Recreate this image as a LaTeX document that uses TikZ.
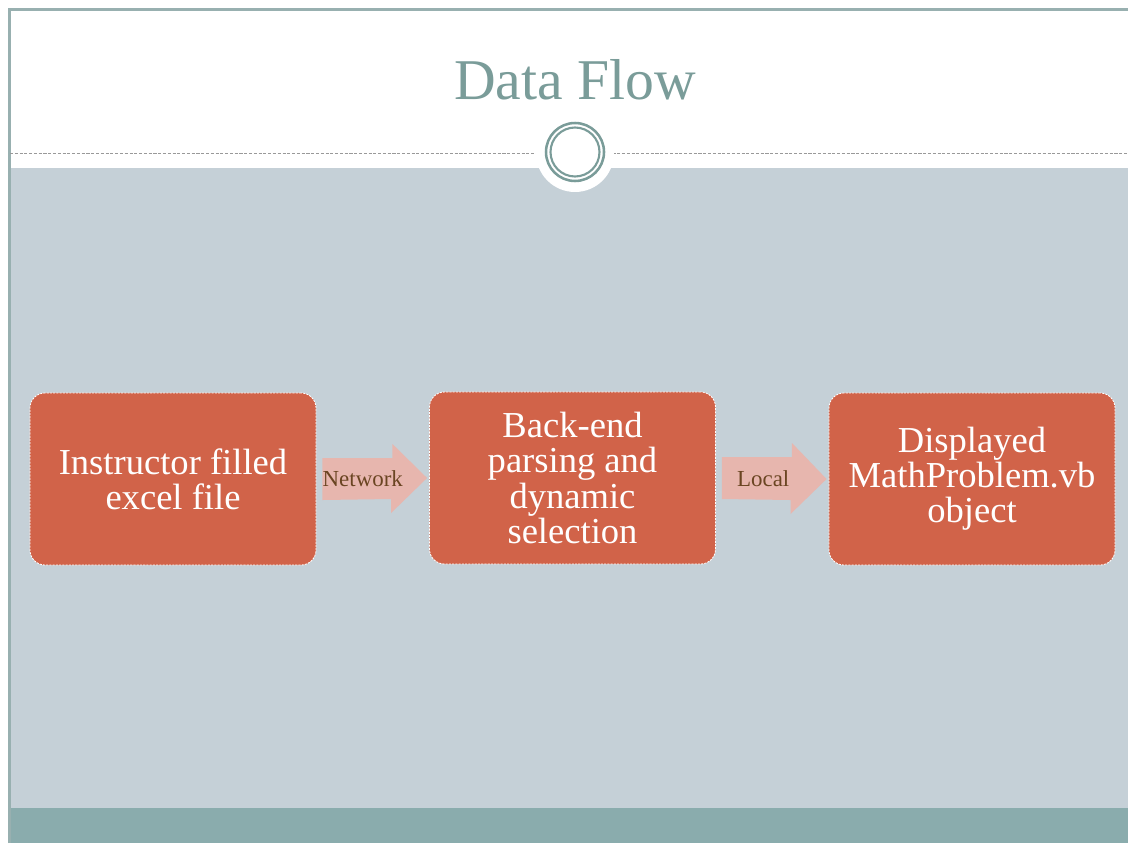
\documentclass[tikz,border=0pt]{standalone}
\usepackage{fontspec}
\setmainfont{Liberation Serif}
\usetikzlibrary{calc}
\definecolor{bodygray}{HTML}{C5D0D7}
\definecolor{footteal}{HTML}{8AACAD}
\definecolor{framegray}{HTML}{98B0B0}
\definecolor{titleteal}{HTML}{7A9C99}
\definecolor{boxred}{HTML}{D16349}
\definecolor{arrowpink}{HTML}{E7B6AE}
\definecolor{labelbrown}{HTML}{6A4522}
\tikzset{
  stagebox/.style={draw=white, fill=boxred, line width=0.6pt, dash pattern=on 1.5pt off 0.8pt,
    rounded corners=0.375cm, minimum width=7.15cm, minimum height=4.3cm, align=center,
    text=white, font=\fontsize{26}{25}\selectfont, inner sep=0pt},
  flowarrow/.style={fill=arrowpink},
  flowlabel/.style={text=labelbrown, font=\fontsize{16.3}{16}\selectfont, inner sep=0pt}
}
\begin{document}
\begin{tikzpicture}[x=0.025cm, y=-0.025cm]
      \useasboundingbox (0,0) rectangle (1128,843);
      \fill[white] (0,0) rectangle (1128,843);
      \fill[bodygray] (10,168) rectangle (1128,808);
      \fill[footteal] (10,808) rectangle (1128,843);
      \draw[framegray, line width=1.5pt] (9.5,843) -- (9.5,9.5) -- (1128,9.5);
      \draw[gray!80, line width=0.7pt, dash pattern=on 2.2pt off 1.2pt] (10,153) -- (1128,153);
      \fill[white] (575,153) circle (39);
      \draw[titleteal, line width=1.8pt] (575,152) circle (29);
      \draw[titleteal, line width=1.5pt] (575,152) circle (24.5);
      \node[text=titleteal, font=\fontsize{41}{41}\selectfont, inner sep=0pt] (title) at (575,80) {Data Flow};
      \node[stagebox] (instr) at (173,479) {Instructor filled\\excel file};
      \node[stagebox] (parse) at (572.5,478) {Back-end\\parsing and\\dynamic\\selection};
      \node[stagebox] (disp) at (972,479) {Displayed\\MathProblem.vb\\object};
      \path (instr.east) ++(6,0) coordinate (n1) (parse.west) ++(-2,0) coordinate (n2);
      \path (parse.east) ++(6,0) coordinate (l1) (disp.west) ++(-2,0) coordinate (l2);
      \fill[flowarrow] ($(n1)+(0,-21)$) -- ++(70,0) -- ++(0,-14) -- (n2)
        -- ($(n2)+(-36,35)$) -- ++(0,-14) -- ($(n1)+(0,21)$) -- cycle;
      \fill[flowarrow] ($(l1)+(0,-21)$) -- ++(70,0) -- ++(0,-14) -- (l2)
        -- ($(l2)+(-36,35)$) -- ++(0,-14) -- ($(l1)+(0,21)$) -- cycle;
      \node[flowlabel] (netlabel) at ($(n1)!0.5!(n2)+(-12,0)$) {Network};
      \node[flowlabel] (locallabel) at ($(l1)!0.5!(l2)+(-11,0)$) {Local};
    \end{tikzpicture}
\end{document}
